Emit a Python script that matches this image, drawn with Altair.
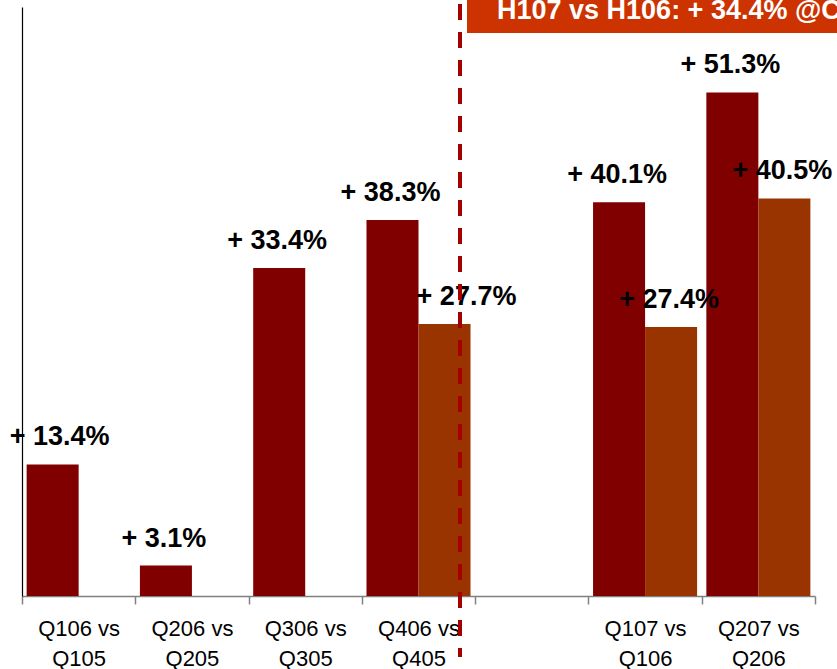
import altair as alt
import pandas as pd

# Quarter-on-quarter growth, two series per quarter (blank slot separates 2006 from 2007)
categories = ["Q106 vs\nQ105", "Q206 vs\nQ205", "Q306 vs\nQ305", "Q406 vs\nQ405", " ",
              "Q107 vs\nQ106", "Q207 vs\nQ206"]
series_names = ["A", "B"]
growth_a = [13.4, 3.1, 33.4, 38.3, None, 40.1, 51.3]
growth_b = [None, None, None, 27.7, None, 27.4, 40.5]
bar_colors = ["#800000", "#993300"]
banner_text = "H107 vs H106: + 34.4% @CER"

rows = []
for name, vals in zip(series_names, [growth_a, growth_b]):
    for cat, v in zip(categories, vals):
        if v is not None:
            rows.append({"category": cat, "series": name, "value": v})
df = pd.DataFrame(rows)

FONT = "Liberation Sans"
W, H = 793, 589

x_enc = alt.X(
    "category:N",
    scale=alt.Scale(domain=categories, paddingInner=0, paddingOuter=0),
    axis=alt.Axis(
        title=None, labelAngle=0, labelFont=FONT, labelFontSize=22, labelColor="black",
        labelLineHeight=30, labelPadding=14, labelExpr="split(datum.label, '\\n')",
        domainColor="#808080", domainWidth=1.5, tickColor="#808080", tickWidth=1.5,
        tickSize=8, tickBand="extent", grid=False,
    ),
)
x_off = alt.XOffset(
    "series:N",
    scale=alt.Scale(domain=series_names, paddingInner=0, paddingOuter=0.089),
)
y_enc = alt.Y(
    "value:Q",
    scale=alt.Scale(domain=[0, 60], nice=False, zero=True),
    axis=alt.Axis(title=None, domain=True, domainColor="black", domainWidth=1.2,
                  ticks=False, labels=False, grid=False),
)

base = alt.Chart(df)

bars = base.mark_bar().encode(
    x=x_enc, xOffset=x_off, y=y_enc,
    color=alt.Color("series:N", scale=alt.Scale(domain=series_names, range=bar_colors),
                    legend=None),
)

# value labels; a couple are nudged sideways
label_dx = {13.4: 7, 27.7: 22}


def value_labels(filt, dx):
    return (
        base.transform_filter(filt)
        .transform_calculate(label="'+ ' + format(datum.value, '.1f') + '%'")
        .mark_text(font=FONT, fontSize=27, fontWeight="bold", color="black",
                   baseline="alphabetic", dy=-19, dx=dx)
        .encode(x=x_enc, xOffset=x_off, y=y_enc, text="label:N")
    )


shifted = list(label_dx.keys())
layers = [bars,
          value_labels(~alt.FieldOneOfPredicate(field="value", oneOf=shifted), -2)]
for v, dx in label_dx.items():
    layers.append(value_labels(alt.datum.value == v, dx))

marker = alt.Chart(pd.DataFrame({"k": [0]}))

divider = marker.mark_rule(color="#A50000", strokeWidth=4, strokeDash=[16, 12]).encode(
    x=alt.value(438), y=alt.value(-3), y2=alt.value(650)
)
banner = marker.mark_rect(color="#CC3300").encode(
    x=alt.value(445), x2=alt.value(840), y=alt.value(-12), y2=alt.value(26)
)
banner_label = marker.mark_text(
    text=banner_text, align="left", baseline="alphabetic", font=FONT,
    fontSize=27, fontWeight="bold", color="white",
).encode(x=alt.value(475), y=alt.value(11.5))

chart = (
    alt.layer(*layers, divider, banner, banner_label)
    .properties(
        width=W, height=H,
        autosize=alt.AutoSizeParams(type="none"),
        padding={"left": 22, "top": 7, "right": 22, "bottom": 73},
        background="white",
    )
    .configure_view(stroke=None)
)

chart.save("out.html", embed_options={"renderer": "svg", "actions": False})
